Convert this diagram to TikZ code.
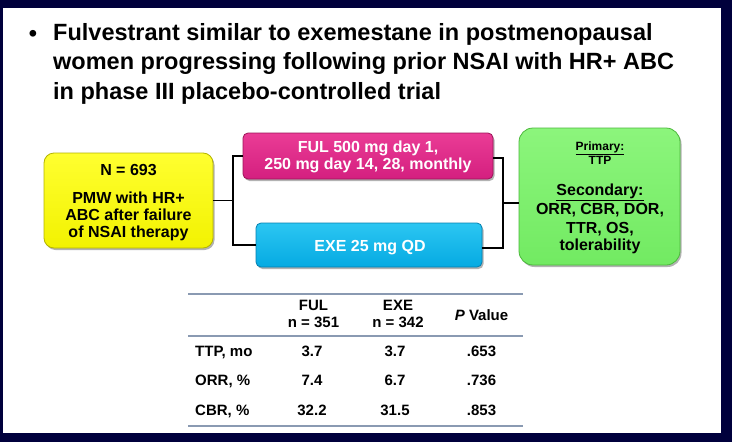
\documentclass[tikz,border=0pt]{standalone}
\usepackage{fontspec}
\setmainfont{Liberation Sans}
\usetikzlibrary{shadows}
\definecolor{navy}{RGB}{0,0,60}
\definecolor{ytop}{HTML}{FFFF30}
\definecolor{ybot}{HTML}{F2F200}
\definecolor{yedge}{HTML}{B4B400}
\definecolor{ptop}{HTML}{EA3C96}
\definecolor{pbot}{HTML}{D41F7F}
\definecolor{pedge}{HTML}{9C1458}
\definecolor{btop}{HTML}{2CC6F2}
\definecolor{bbot}{HTML}{05AAE2}
\definecolor{bedge}{HTML}{0580B0}
\definecolor{gtop}{HTML}{8CF57C}
\definecolor{gbot}{HTML}{72EA62}
\definecolor{gedge}{HTML}{4CB83C}
\definecolor{rulec}{HTML}{8A9AB2}
\tikzset{
  box/.style={draw, line width=0.8pt, rounded corners=#1, inner sep=0pt,
    drop shadow={shadow xshift=1.5pt, shadow yshift=-2pt, fill=black, opacity=0.3}},
  txt/.style={inner sep=0pt, anchor=base},
  big/.style={font=\fontsize{16}{19}\selectfont\bfseries},
  small/.style={font=\fontsize{12}{14}\selectfont\bfseries},
  wtxt/.style={txt, big, text=white},
  conn/.style={line width=1.5pt, black},
  tab/.style={txt, font=\fontsize{15}{18}\selectfont\bfseries},
  tabb/.style={txt, font=\fontsize{15}{18}\selectfont\bfseries},
  rule/.style={line width=1.5pt, rulec},
  ttl/.style={inner sep=0pt, anchor=base west, font=\fontsize{23.5}{28}\selectfont\bfseries}
}
\begin{document}
\begin{tikzpicture}[x=1pt,y=-1pt]
\useasboundingbox (0,0) rectangle (732,442);
\fill[navy] (0,0) rectangle (732,442);
\fill[white] (3,8) rectangle (721,433);

% title
\node[inner sep=0pt, anchor=base, font=\fontsize{23.5}{28}\selectfont\bfseries] (bul) at (33,41) {•};
\node[ttl] (t1) at (53,40.5) {Fulvestrant similar to exemestane in postmenopausal};
\node[ttl] (t2) at (53,69.8) {women progressing following prior NSAI with HR+ ABC};
\node[ttl] (t3) at (53,99) {in phase III placebo-controlled trial};

% boxes
\node[box=10pt, draw=yedge, top color=ytop, bottom color=ybot, minimum width=169pt, minimum height=95pt] (Y) at (128.5,200.5) {};
\node[box=5pt, draw=pedge, top color=ptop, bottom color=pbot, minimum width=250pt, minimum height=46pt] (P) at (368,156) {};
\node[box=5pt, draw=bedge, top color=btop, bottom color=bbot, minimum width=226pt, minimum height=44pt] (B) at (369,245) {};
\node[box=14pt, draw=gedge, top color=gtop, bottom color=gbot, minimum width=161pt, minimum height=137pt] (G) at (599.5,196.5) {};

% box texts
\node[txt, big] (y1) at (128.5,175.5) {N = 693};
\node[txt, big] (y2) at (128.5,203.5) {PMW with HR+};
\node[txt, big] (y3) at (128.5,220.5) {ABC after failure};
\node[txt, big] (y4) at (128.5,237.5) {of NSAI therapy};

\node[wtxt] (p1) at (368,152.5) {FUL 500 mg day 1,};
\node[wtxt] (p2) at (368,169) {250 mg day 14, 28, monthly};

\node[wtxt] (b1) at (370,251.5) {EXE 25 mg QD};

\node[txt, small] (g1) at (600,150) {\underline{Primary:}};
\node[txt, small] (g2) at (600,164) {TTP};
\node[txt, big] (g3) at (600,195) {\underline{Secondary:}};
\node[txt, big] (g4) at (600,214) {ORR, CBR, DOR,};
\node[txt, big] (g5) at (600,233) {TTR, OS,};
\node[txt, big] (g6) at (600,250.5) {tolerability};

% connectors
\coordinate (jL) at (233,200.5);
\coordinate (jR) at (503,203);
\draw[conn] (Y.east) -- (jL);
\draw[conn] (P.west) -| (jL) |- (B.west);
\draw[conn] ([yshift=-2pt]P.east) -| (jR) |- ([yshift=-3pt]B.east);
\draw[conn] (jR) -- (jR -| G.west);

% table
\coordinate (r1a) at (188,294); \coordinate (r1b) at (523,294);
\coordinate (r2a) at (188,336); \coordinate (r2b) at (523,336);
\coordinate (r3a) at (188,426); \coordinate (r3b) at (523,426);
\draw[rule] (r1a) -- (r1b);
\draw[rule] (r2a) -- (r2b);
\draw[rule] (r3a) -- (r3b);

\node[tab] (h1) at (313.5,310) {FUL};
\node[tab] (h2) at (313.5,327.5) {n = 351};
\node[tab] (h3) at (398,310) {EXE};
\node[tab] (h4) at (398,327.5) {n = 342};
\node[tab] (h5) at (481.5,320) {\textit{P} Value};

\node[tab, anchor=base west] (l1) at (195,356) {TTP, mo};
\node[tab, anchor=base west] (l2) at (195,385) {ORR, \%};
\node[tab, anchor=base west] (l3) at (195,415) {CBR, \%};

\node[tabb] (v11) at (312,356) {3.7};
\node[tabb] (v12) at (395,356) {3.7};
\node[tabb] (v13) at (481.5,356) {.653};
\node[tabb] (v21) at (312,385) {7.4};
\node[tabb] (v22) at (395,385) {6.7};
\node[tabb] (v23) at (481.5,385) {.736};
\node[tabb] (v31) at (312,415) {32.2};
\node[tabb] (v32) at (395,415) {31.5};
\node[tabb] (v33) at (481.5,415) {.853};
\end{tikzpicture}
\end{document}
